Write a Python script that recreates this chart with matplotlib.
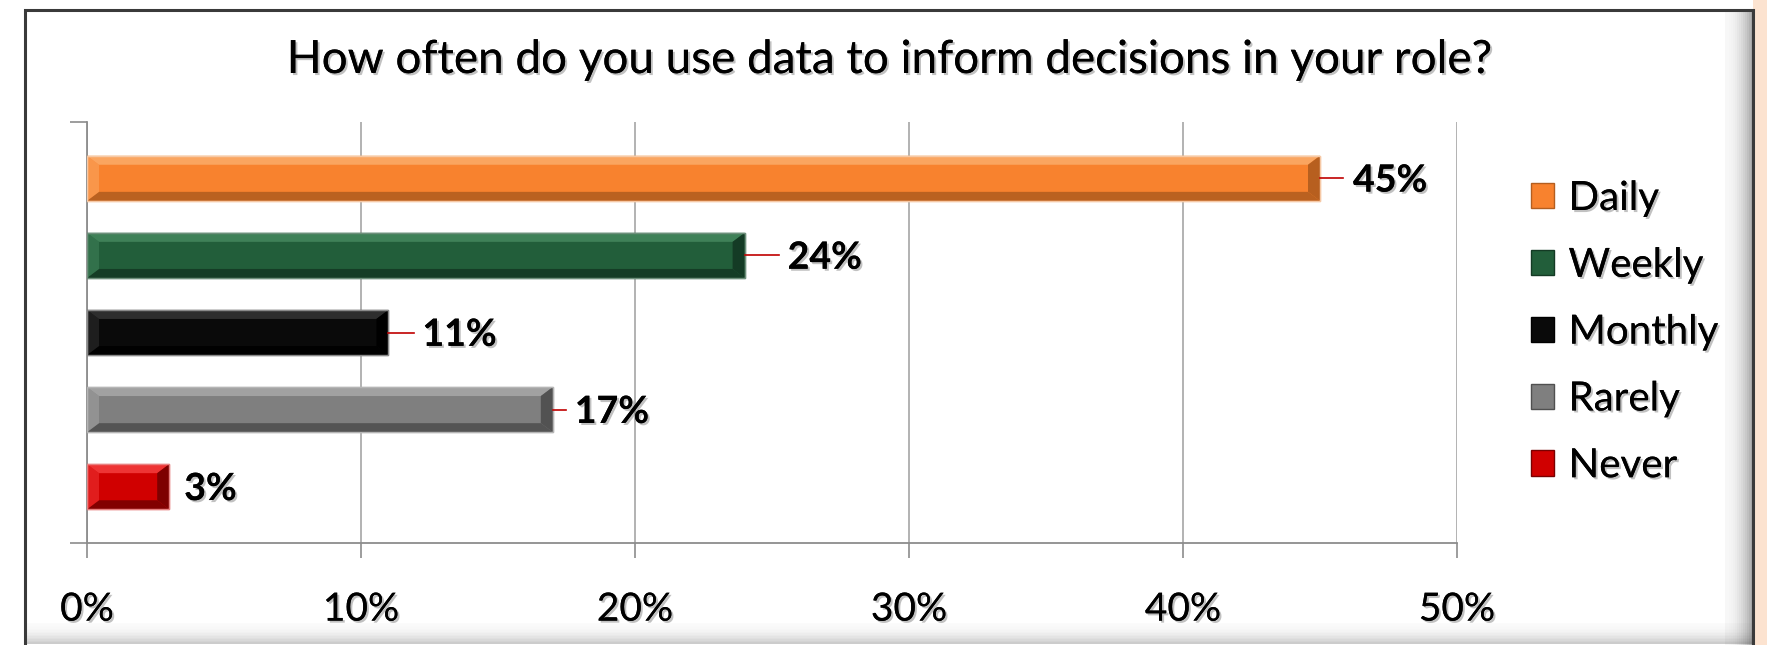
import matplotlib
matplotlib.use("Agg")
import matplotlib.pyplot as plt
import matplotlib.patheffects as pe
from matplotlib.patches import Rectangle, Polygon, Patch
from matplotlib.ticker import FuncFormatter

plt.rcParams['font.family'] = ['Lato', 'DejaVu Sans']

# ---- data ----
categories = ["Daily", "Weekly", "Monthly", "Rarely", "Never"]
values = [45, 24, 11, 17, 3]
xticks = [0, 10, 20, 30, 40, 50]
title = "How often do you use data to inform decisions in your role?"

# ---- style ----
base_colors = ["#F8822E", "#225E3A", "#0A0A0A", "#7F7F7F", "#D00000"]
light_colors = ["#FBAA66", "#43855C", "#333333", "#A5A5A5", "#F23A3A"]
dark_colors = ["#B45E1F", "#143A24", "#000000", "#505050", "#7A0000"]
edge_colors = ["#F6C9A6", "#6E8F7B", "#8A8A8A", "#B5B5B5", "#E88080"]
label_offsets_px = [33, 43, 34, 22, 15]   # label distance from bar end
leader_px = [23, 34, 26, 13, 0]

W, H = 1767, 645
fig = plt.figure(figsize=(W / 100, H / 100), dpi=100)
fig.patch.set_facecolor("white")

# outer frame
fr_l, fr_t, fr_r = 25, 10, 1753
fig.patches.append(Rectangle((fr_r / W, 0), (W - fr_r) / W, 1, transform=fig.transFigure,
                             facecolor="#FCE3D0", edgecolor="none", zorder=0))
n_sh = 14
for i in range(n_sh):
    a = 0.05 + 0.6 * (i / n_sh) ** 2
    fig.patches.append(Rectangle(((fr_r - n_sh * 2 + i * 2) / W, 0), 2 / W, (H - fr_t) / H,
                                 transform=fig.transFigure, facecolor="black", alpha=a * 0.6,
                                 edgecolor="none", zorder=1))
    fig.patches.append(Rectangle((fr_l / W, (n_sh * 1.5 - i * 1.5) / H), (fr_r - fr_l) / W, 1.5 / H,
                                 transform=fig.transFigure, facecolor="black", alpha=a * 0.35,
                                 edgecolor="none", zorder=1))
fig.patches.append(Rectangle((fr_l / W, -0.01), (fr_r - fr_l) / W, 1.01 - fr_t / H,
                             transform=fig.transFigure, facecolor="none", edgecolor="#3A3A3A",
                             linewidth=2.2, zorder=2))

ax_l, ax_r, ax_t, ax_b = 87, 1457, 122, 543
ax = fig.add_axes([ax_l / W, 1 - ax_b / H, (ax_r - ax_l) / W, (ax_b - ax_t) / H])
ax.set_facecolor("none")

n = len(categories)
ypos = list(range(n))
bh = 0.585
margin = 0.73
bars = ax.barh(ypos, values, height=bh, color=base_colors, edgecolor=edge_colors,
               linewidth=1.0, zorder=3)

ax.set_xlim(xticks[0], xticks[-1])
ax.set_ylim(n - 1 + margin, -margin)

px_per_x = (ax_r - ax_l) / (xticks[-1] - xticks[0])
px_per_y = (ax_b - ax_t) / (n - 1 + 2 * margin)
bx = 12 / px_per_x
by = 9 / px_per_y

# bevel overlays derived from bar geometry
for b, lc, dc in zip(bars, light_colors, dark_colors):
    x0, y0 = b.get_x(), b.get_y()
    w, h = b.get_width(), b.get_height()
    x1, y1 = x0 + w, y0 + h
    dx = min(bx, w / 3)
    ax.add_patch(Polygon([(x0, y0), (x1, y0), (x1 - dx, y0 + by), (x0 + dx, y0 + by)],
                         closed=True, facecolor=lc, edgecolor="none", zorder=4, alpha=0.9))
    ax.add_patch(Polygon([(x0, y1), (x1, y1), (x1 - dx, y1 - by), (x0 + dx, y1 - by)],
                         closed=True, facecolor=dc, edgecolor="none", zorder=4, alpha=0.9))
    ax.add_patch(Polygon([(x0, y0), (x0 + dx, y0 + by), (x0 + dx, y1 - by), (x0, y1)],
                         closed=True, facecolor=lc, edgecolor="none", zorder=4, alpha=0.5))
    ax.add_patch(Polygon([(x1, y0), (x1 - dx, y0 + by), (x1 - dx, y1 - by), (x1, y1)],
                         closed=True, facecolor=dc, edgecolor="none", zorder=4, alpha=0.95))
    ax.add_patch(Rectangle((x0, y0), w, h, facecolor="none", edgecolor=b.get_edgecolor(),
                           linewidth=1.0, zorder=5))

shadow = [pe.withSimplePatchShadow(offset=(1.5, -1.5), shadow_rgbFace="#777777", alpha=0.45),
          pe.Normal()]

# data labels with leader lines
for b, v, off, ld in zip(bars, values, label_offsets_px, leader_px):
    yc = b.get_y() + b.get_height() / 2
    xe = b.get_x() + b.get_width()
    if ld > 0:
        ax.plot([xe, xe + ld / px_per_x], [yc, yc], color="#C00000", lw=1.2, zorder=6)
    ax.text(xe + off / px_per_x, yc + 0.03, f"{v}%", fontsize=27, fontweight="bold",
            ha="left", va="center", color="black", zorder=7, path_effects=shadow)

# grid & axes
ax.set_xticks(xticks)
ax.xaxis.set_major_formatter(FuncFormatter(lambda x, p: f"{x:.0f}%"))
ax.grid(axis="x", color="#A6A6A6", linewidth=1.2, zorder=0)
ax.set_axisbelow(True)
for s in ["top", "right"]:
    ax.spines[s].set_visible(False)
for s in ["left", "bottom"]:
    ax.spines[s].set_color("#8C8C8C")
    ax.spines[s].set_linewidth(1.3)
ax.tick_params(axis="x", direction="out", length=11, width=1.2, color="#8C8C8C",
               labelsize=28, pad=24, labelcolor="black")
ax.set_yticks([-margin, n - 1 + margin])
ax.set_yticklabels([])
ax.tick_params(axis="y", direction="out", length=12, width=1.2, color="#8C8C8C")
for t in ax.get_xticklabels():
    t.set_path_effects(shadow)

# title
fig.text(890 / W, 1 - 60 / H, title, ha="center", va="center", fontsize=33,
         color="black", path_effects=shadow)

# legend
handles = [Patch(facecolor=c, edgecolor=d, linewidth=1.0) for c, d in zip(base_colors, dark_colors)]
leg = ax.legend(handles, categories, loc="upper left", bbox_to_anchor=(1531 / W, 1 - 180 / H),
                bbox_transform=fig.transFigure, frameon=False, fontsize=29,
                handlelength=0.58, handleheight=0.58, handletextpad=0.35,
                labelspacing=0.74, borderpad=0, borderaxespad=0)
for t in leg.get_texts():
    t.set_path_effects(shadow)

fig.savefig("out.png", dpi=100, facecolor="white")
